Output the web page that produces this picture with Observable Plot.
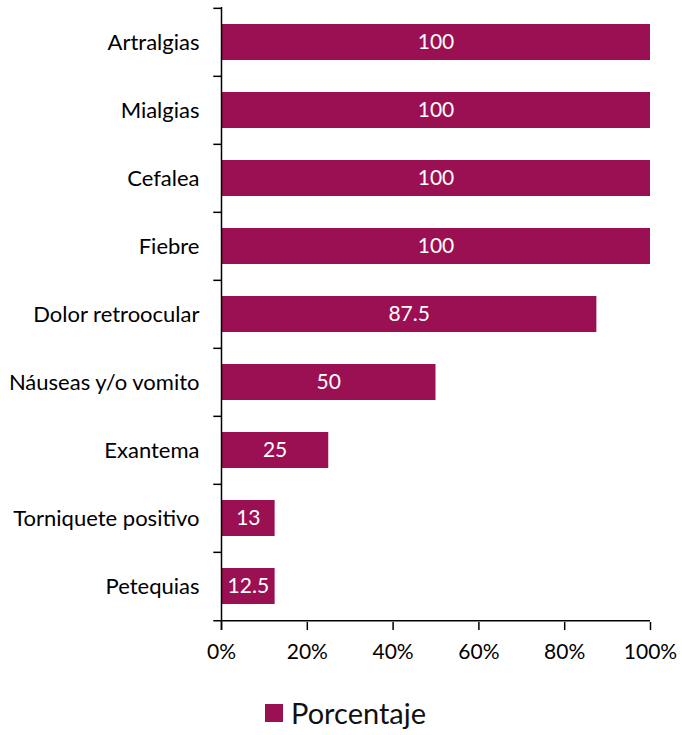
<!DOCTYPE html>
<html><head><meta charset="utf-8">
<script src="https://cdn.jsdelivr.net/npm/d3@7"></script>
<script src="https://cdn.jsdelivr.net/npm/@observablehq/plot@0.6"></script>
<style>
body{margin:0;background:#fff;font-family:Lato,"Noto Sans",sans-serif;}
#legend{display:flex;align-items:center;margin-left:265px;margin-top:10px;font-size:29px;color:#111;}
#legend span.sw{display:inline-block;width:18px;height:18px;background:#9b1052;margin-right:8px;}
</style></head>
<body><div id="chart"></div>
<div id="legend"><span class="sw"></span><span>Porcentaje</span></div>
<script>
const categories = ["Artralgias","Mialgias","Cefalea","Fiebre","Dolor retroocular","Náuseas y/o vomito","Exantema","Torniquete positivo","Petequias"];
const values = [100,100,100,100,87.5,50,25,12.5,12.5];
const valueLabels = ["100","100","100","100","87.5","50","25","13","12.5"];
const xTicks = [0,20,40,60,80,100];
const seriesName = "Porcentaje";

const data = categories.map((c,i)=>({cat:c, v:values[i], lab:valueLabels[i]}));
const W=682, H=685, mt=7, mb=63;
const step = (H-mt-mb)/categories.length;
const color = "#9b1052";

const chart = Plot.plot({
  width: W, height: H,
  marginLeft: 221, marginRight: 32, marginTop: mt, marginBottom: mb,
  style: {fontFamily: "Lato, 'Noto Sans', sans-serif", fontSize: "21px", color: "#000"},
  x: {domain:[0,100], axis:null},
  y: {domain: categories, paddingInner: 0.47, paddingOuter: 0.235, axis: null},
  marks: [
    Plot.barX(data, {y:"cat", x:"v", fill: color}),
    Plot.text(data, {y:"cat", x: d=>d.v/2, text:"lab", fill:"white", fontSize:21}),
    Plot.text(data, {y:"cat", x:0, text:"cat", textAnchor:"end", dx:-22, fill:"#000", fontSize:22}),
    Plot.ruleY(categories, {y: d=>d, x1: -1.8, x2: 0, dy: -step/2, stroke:"#000", strokeWidth:1.5}),
    Plot.ruleY([categories[categories.length-1]], {y: d=>d, x1: -1.8, x2: 100, dy: step/2, stroke:"#000", strokeWidth:1.5}),
    Plot.ruleX([0], {stroke:"#000", strokeWidth:1.5, insetBottom:-8}),
    Plot.axisX(xTicks, {tickSize:8, tickFormat: d=>d+"%", fontSize:21, tickPadding:14, label:null, stroke:"#000", strokeWidth:1.5, fill:"#000"})
  ]
});
document.getElementById("chart").appendChild(chart);
</script></body></html>
